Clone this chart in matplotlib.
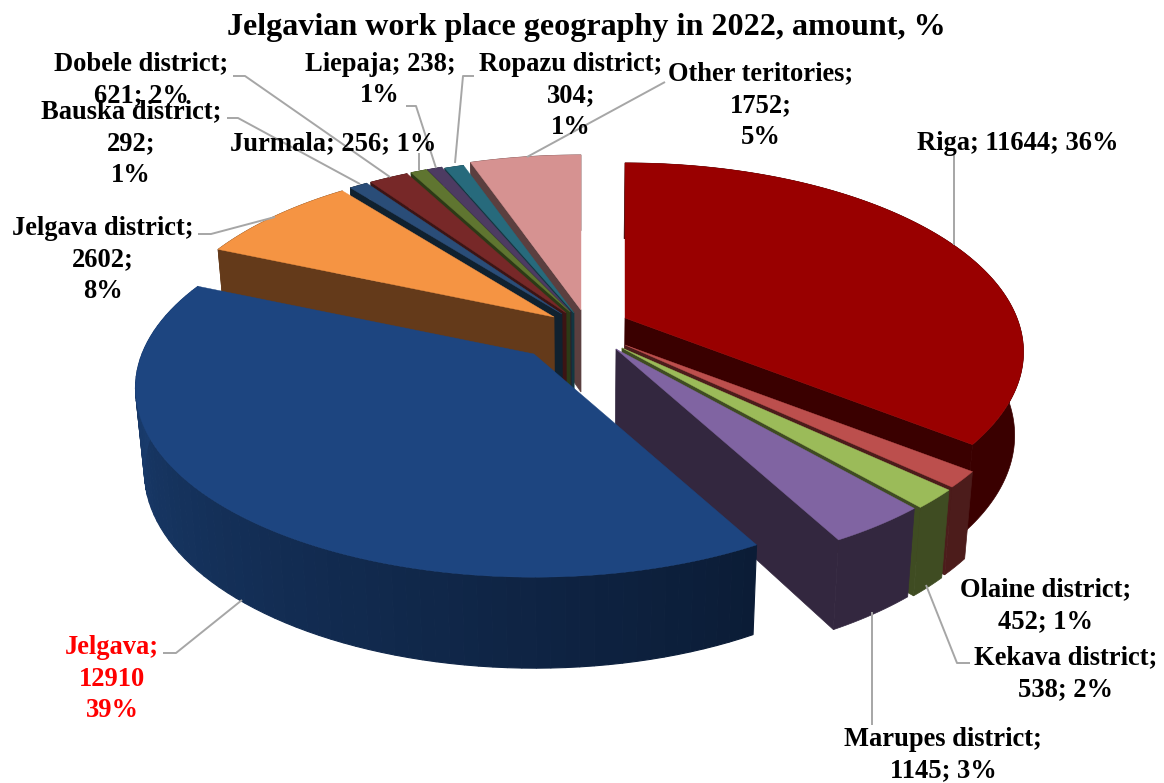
import numpy as np
import matplotlib
matplotlib.use('Agg')
import matplotlib.pyplot as plt
from matplotlib.colors import to_rgb
from matplotlib.patches import Polygon

places = ['Riga', 'Olaine district', 'Kekava district', 'Marupes district', 'Jelgava',
          'Jelgava district', 'Bauska district', 'Dobele district', 'Jurmala', 'Liepaja',
          'Ropazu district', 'Other teritories']
amounts = [11644, 452, 538, 1145, 12910, 2602, 292, 621, 256, 238, 304, 1752]
percents = [36, 1, 2, 3, 39, 8, 1, 2, 1, 1, 1, 5]

# line breaks of each label, same order as places
label_fmt = ['{}; {}; {}%', '{};\n{}; {}%', '{};\n{}; {}%', '{};\n{}; {}%', '{};\n{}\n{}%',
             '{};\n{};\n{}%', '{};\n{};\n{}%', '{};\n{}; {}%', '{}; {}; {}%', '{}; {};\n{}%',
             '{};\n{};\n{}%', '{};\n{};\n{}%']

top_colors = ['#990000', '#bc4f4d', '#9bbb59', '#8064a2', '#1d4580', '#f59443',
              '#2a4d78', '#772828', '#5f7530', '#4d3b62', '#276a7c', '#d69291']
side_colors = ['#3a0000', '#4c1c1b', '#3f4c22', '#33273f', '#0b1c36', '#643a1a',
               '#10212f', '#3c1414', '#2c3a16', '#261d31', '#123640', '#5b3f3f']

# where each exploded slice has its tip, pixels
tips = [(625, 318), (625, 345), (622, 348), (616, 349), (534, 354), (554, 317),
        (562, 314), (566, 313), (570, 312), (571, 312), (574, 313), (581, 310)]

label_pos = [(1018, 143), (1046, 606), (1066, 674), (943, 755), (112, 679), (103, 260),
             (131, 144), (141, 80), (333, 144), (380, 80), (571, 96), (761, 106)]

leaders = [[(954, 155), (954, 245)],
           [(926, 585), (957, 663), (970, 663)],
           [(872, 612), (872, 725)],
           [(163, 653), (176, 653), (242, 600)],
           [(198, 234), (211, 234), (275, 217)],
           [(227, 118), (238, 118), (360, 184)],
           [(233, 76), (245, 76), (390, 177)],
           [(419, 153), (419, 170)],
           [(406, 106), (416, 106), (436, 168)],
           [(474, 76), (463, 76), (455, 163)],
           [(665, 82), (527, 157)]]

RX, RY, PERSP = 392, 183, 0.18
DEPTH = 82


def rim(tip, theta):
    s = 1 / (1 + PERSP * np.cos(theta))
    return tip[0] + RX * np.sin(theta) * s, tip[1] - RY * np.cos(theta) * s, s


def drop(x, y, s=1.0):
    # same point on the lower face of the pie
    return x - 0.02 * (x - 581), y + DEPTH * (1 + 0.5 * (s - 1))


fig = plt.figure(figsize=(11.64, 7.83), dpi=100)
ax = fig.add_axes([0, 0, 1, 1])
ax.set_xlim(0, 1164)
ax.set_ylim(783, 0)
ax.axis('off')

edges = np.radians(np.concatenate([[0], np.cumsum(amounts)]) / sum(amounts) * 360)
order = [11, 10, 9, 8, 7, 6, 5, 0, 1, 2, 3, 4]

for i in order:
    tip = tips[i]
    a, b = edges[i], edges[i + 1]
    n = max(int((b - a) * 60), 3)
    th = np.linspace(a, b, n)
    xs, ys, ss = rim(tip, th)
    z = 2 + order.index(i)

    # flat cut faces, only those that turn to the viewer
    faces = []
    if a > np.pi:
        faces.append(0)
    if b < np.pi:
        faces.append(-1)
    for k in faces:
        pts = [tip, (xs[k], ys[k]), drop(xs[k], ys[k], ss[k]), drop(*tip)]
        ax.add_patch(Polygon(pts, fc=side_colors[i], ec=side_colors[i], lw=0.5, zorder=z))

    # Jelgava wall is shaded in strips, the others are one piece
    if i == 4:
        m = 80
        sx, sy, sz = rim(tip, np.linspace(a, b, m + 1))
        for k in range(m):
            t = (k + 0.5) / m
            c = np.array(to_rgb('#0b1c36')) * (1 - t) + np.array(to_rgb('#1c4278')) * t
            pts = [(sx[k], sy[k]), (sx[k + 1], sy[k + 1]),
                   drop(sx[k + 1], sy[k + 1], sz[k + 1]), drop(sx[k], sy[k], sz[k])]
            ax.add_patch(Polygon(pts, fc=c, ec=c, lw=0.8, zorder=z))
    else:
        low = [drop(x, y, s) for x, y, s in zip(xs, ys, ss)]
        wall = list(zip(xs, ys)) + low[::-1]
        ax.add_patch(Polygon(wall, fc=side_colors[i], ec=side_colors[i], lw=0.5, zorder=z))

    ax.add_patch(Polygon([tip] + list(zip(xs, ys)), fc=top_colors[i], ec=top_colors[i],
                         lw=0.3, zorder=z + 0.5))

for line in leaders:
    ax.plot(*zip(*line), color='#a6a6a6', lw=1.4, zorder=20, solid_capstyle='butt')

serif = ['Liberation Serif', 'DejaVu Serif']
for i, name in enumerate(places):
    txt = label_fmt[i].format(name, amounts[i], percents[i])
    ax.text(label_pos[i][0], label_pos[i][1], txt, ha='center', va='center', family=serif,
            weight='bold', fontsize=19.1, linespacing=1.36, zorder=30,
            color='red' if name == 'Jelgava' else 'black')

ax.text(586, 27, 'Jelgavian work place geography in 2022, amount, %', ha='center', va='center',
        family=serif, weight='bold', fontsize=23.1, zorder=30)

fig.savefig('out.png', dpi=100)
